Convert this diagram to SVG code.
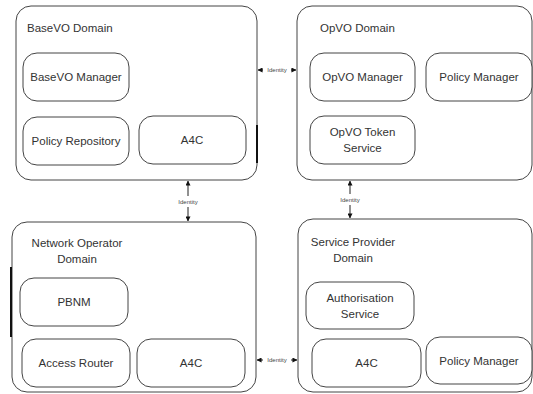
<svg xmlns="http://www.w3.org/2000/svg" width="533" height="394" viewBox="0 0 533 394">
  <defs>
    <marker id="ah" viewBox="0 0 6 6" refX="5.5" refY="3" markerWidth="5" markerHeight="5" orient="auto-start-reverse" markerUnits="userSpaceOnUse">
      <path d="M0,0 L6,3 L0,6 Z" fill="#111"/>
    </marker>
    <style>
      .dom { fill: #fff; stroke: #444; stroke-width: 1; }
      .box { fill: #fff; stroke: #444; stroke-width: 1; }
      .t { font-family: "Liberation Sans", Arial, sans-serif; font-size: 11.5px; fill: #333; }
      .c { text-anchor: middle; }
      .lbl { font-family: "Liberation Sans", Arial, sans-serif; font-size: 6px; fill: #444; text-anchor: middle; }
      .ln { stroke: #222; stroke-width: 1; fill: none; }
      .mk { stroke: #111; stroke-width: 2; }
    </style>
  </defs>
  <rect width="533" height="394" fill="#fff"/>

  <!-- BaseVO domain -->
  <g id="basevo-domain">
    <rect class="dom" x="16" y="6" width="241" height="174" rx="15"/>
    <text class="t" x="27" y="32">BaseVO Domain</text>
    <line class="mk" x1="257" y1="125" x2="257" y2="163"/>
  </g>
  <g id="basevo-manager">
    <rect class="box" x="23" y="53" width="106" height="48" rx="14"/>
    <text class="t c" x="76" y="81">BaseVO Manager</text>
  </g>
  <g id="policy-repository">
    <rect class="box" x="23" y="117" width="106" height="48" rx="14"/>
    <text class="t c" x="76" y="145">Policy Repository</text>
  </g>
  <g id="basevo-a4c">
    <rect class="box" x="139" y="116" width="107" height="48" rx="14"/>
    <text class="t c" x="192" y="144">A4C</text>
  </g>

  <!-- OpVO domain -->
  <g id="opvo-domain">
    <rect class="dom" x="297" y="6" width="235" height="174" rx="15"/>
    <text class="t" x="320" y="32">OpVO Domain</text>
  </g>
  <g id="opvo-manager">
    <rect class="box" x="310" y="53" width="105" height="48" rx="14"/>
    <text class="t c" x="362.5" y="81">OpVO Manager</text>
  </g>
  <g id="opvo-policy-manager">
    <rect class="box" x="426" y="53" width="106" height="48" rx="14"/>
    <text class="t c" x="479" y="81">Policy Manager</text>
  </g>
  <g id="opvo-token-service">
    <rect class="box" x="310" y="116" width="105" height="48" rx="14"/>
    <text class="t c" x="362.5" y="136">OpVO Token</text>
    <text class="t c" x="362.5" y="152">Service</text>
  </g>

  <!-- Network Operator domain -->
  <g id="network-operator-domain">
    <rect class="dom" x="12" y="222" width="244" height="170" rx="15"/>
    <text class="t c" x="77" y="247">Network Operator</text>
    <text class="t c" x="77" y="263">Domain</text>
    <line class="mk" x1="11" y1="267" x2="11" y2="337"/>
  </g>
  <g id="pbnm">
    <rect class="box" x="20" y="278" width="108" height="48" rx="14"/>
    <text class="t c" x="74" y="306">PBNM</text>
  </g>
  <g id="access-router">
    <rect class="box" x="22" y="339" width="108" height="48" rx="14"/>
    <text class="t c" x="76" y="367">Access Router</text>
  </g>
  <g id="netop-a4c">
    <rect class="box" x="137" y="339" width="108" height="48" rx="14"/>
    <text class="t c" x="191" y="367">A4C</text>
  </g>

  <!-- Service Provider domain -->
  <g id="service-provider-domain">
    <rect class="dom" x="298" y="219" width="234" height="173" rx="15"/>
    <text class="t c" x="353" y="246">Service Provider</text>
    <text class="t c" x="353" y="262">Domain</text>
  </g>
  <g id="authorisation-service">
    <rect class="box" x="306" y="282" width="108" height="47" rx="14"/>
    <text class="t c" x="360" y="302">Authorisation</text>
    <text class="t c" x="360" y="318">Service</text>
  </g>
  <g id="sp-a4c">
    <rect class="box" x="312" y="339" width="109" height="48" rx="14"/>
    <text class="t c" x="366.5" y="367">A4C</text>
  </g>
  <g id="sp-policy-manager">
    <rect class="box" x="426" y="337" width="106" height="47" rx="14"/>
    <text class="t c" x="479" y="365">Policy Manager</text>
  </g>

  <!-- Identity links between domains -->
  <g id="connectors">
    <!-- BaseVO <-> OpVO -->
    <line class="ln" x1="263" y1="70" x2="258" y2="70" marker-end="url(#ah)"/>
    <line class="ln" x1="291" y1="70" x2="296" y2="70" marker-end="url(#ah)"/>
    <text class="lbl" x="277" y="72">Identity</text>
    <!-- BaseVO <-> Network Operator -->
    <line class="ln" x1="188" y1="196" x2="188" y2="181" marker-end="url(#ah)"/>
    <line class="ln" x1="188" y1="207" x2="188" y2="221" marker-end="url(#ah)"/>
    <text class="lbl" x="188" y="203.5">Identity</text>
    <!-- OpVO <-> Service Provider -->
    <line class="ln" x1="350" y1="194" x2="350" y2="181" marker-end="url(#ah)"/>
    <line class="ln" x1="350" y1="205" x2="350" y2="218" marker-end="url(#ah)"/>
    <text class="lbl" x="350" y="201.5">Identity</text>
    <!-- Network Operator <-> Service Provider -->
    <line class="ln" x1="263" y1="360" x2="257" y2="360" marker-end="url(#ah)"/>
    <line class="ln" x1="291" y1="360" x2="297" y2="360" marker-end="url(#ah)"/>
    <text class="lbl" x="277" y="362">Identity</text>
  </g>
</svg>
